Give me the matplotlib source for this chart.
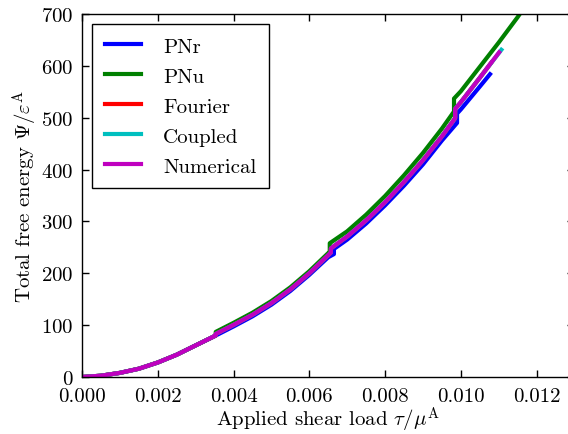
import matplotlib
matplotlib.use("Agg")
import matplotlib.pyplot as plt

# Computer Modern look for all text
plt.rcParams['font.family'] = 'serif'
plt.rcParams['font.serif'] = ['cmr10']
plt.rcParams['mathtext.fontset'] = 'cm'
plt.rcParams['axes.formatter.use_mathtext'] = True
plt.rcParams['axes.unicode_minus'] = False
plt.rcParams['font.size'] = 15

# Applied shear load tau/mu^A and total free energy for each model.
# Repeated x values mark the jumps where a dislocation moves.
tau_pnr = [0, 0.0005, 0.001, 0.0015, 0.002, 0.0025, 0.003, 0.00353,
           0.00353, 0.004, 0.0045, 0.005, 0.0055, 0.006, 0.0065, 0.00665,
           0.00665, 0.007, 0.0075, 0.008, 0.0085, 0.009, 0.0095, 0.0099,
           0.0099, 0.01, 0.0105, 0.01077]
psi_pnr = [0, 2.5, 8, 16, 28, 43, 61, 80,
           80, 97.5, 117, 139.5, 166, 197, 231, 237,
           247, 265, 296, 331, 369, 410, 456, 490,
           508, 516, 560, 584]

tau_pnu = [0, 0.0005, 0.001, 0.0015, 0.002, 0.0025, 0.003, 0.00353,
           0.00353, 0.004, 0.0045, 0.005, 0.0055, 0.006, 0.0065, 0.00654,
           0.00654, 0.007, 0.0075, 0.008, 0.0085, 0.009, 0.0095, 0.00982,
           0.00982, 0.01, 0.0105, 0.011, 0.0115, 0.0118]
psi_pnu = [0, 2.5, 8, 16, 28, 43, 61, 80,
           87, 104.5, 124, 146.5, 173, 204, 239, 241,
           258, 281, 313, 349, 389, 432, 479, 512,
           537, 551, 598, 645, 694, 726]

tau_num = [0, 0.0005, 0.001, 0.0015, 0.002, 0.0025, 0.003, 0.00353,
           0.00353, 0.004, 0.0045, 0.005, 0.0055, 0.006, 0.0065, 0.00657,
           0.00657, 0.007, 0.0075, 0.008, 0.0085, 0.009, 0.0095, 0.00985,
           0.00985, 0.01, 0.0105, 0.01101]
psi_num = [0, 2.5, 8, 16, 28, 43, 61, 80,
           83, 100.5, 120, 142.5, 169, 200, 235, 240,
           248, 271, 302, 337, 376, 418, 464, 499,
           517, 530, 577, 626]

# Fourier and coupled solutions follow the numerical curve closely
tau_fourier = tau_num[:-1] + [0.0108]
psi_fourier = psi_num[:-1] + [606]
tau_coupled = tau_num[:-1] + [0.01107]
psi_coupled = psi_num[:-1] + [631]

fig = plt.figure(figsize=(5.68, 4.35), dpi=100)
ax = fig.add_axes([0.1444, 0.131, 0.867, 0.8345])

ax.plot(tau_pnr, psi_pnr, color='b', lw=3, label='PNr')
ax.plot(tau_pnu, psi_pnu, color='g', lw=3, label='PNu')
ax.plot(tau_fourier, psi_fourier, color='r', lw=3, label='Fourier')
ax.plot(tau_coupled, psi_coupled, color='c', lw=3, label='Coupled')
ax.plot(tau_num, psi_num, color='m', lw=3, label='Numerical')

ax.set_xlim(0, 0.013)
ax.set_ylim(0, 700)
ax.set_xticks([0, 0.002, 0.004, 0.006, 0.008, 0.010, 0.012])
ax.set_xticklabels(['0.000', '0.002', '0.004', '0.006', '0.008', '0.010', '0.012'])
ax.set_yticks([0, 100, 200, 300, 400, 500, 600, 700])
ax.tick_params(direction='in', top=True, right=True, length=5, width=1,
               labelsize=15, pad=6)
ax.tick_params(axis='x', pad=7)
for sp in ax.spines.values():
    sp.set_linewidth(1.0)

ax.set_xlabel(r'Applied shear load $\tau/\mu^{\mathrm{A}}$', fontsize=15, labelpad=0)
ax.set_ylabel(r'Total free energy $\Psi/\varepsilon^{\mathrm{A}}$', fontsize=15, labelpad=1)

leg = ax.legend(loc='upper left', fontsize=15, frameon=True, fancybox=False,
                edgecolor='black', framealpha=1, handlelength=1.75,
                handletextpad=1.05, labelspacing=0.55, borderpad=0.6,
                borderaxespad=0.5)
leg.get_frame().set_linewidth(1.0)

fig.savefig('out.png', dpi=100)
